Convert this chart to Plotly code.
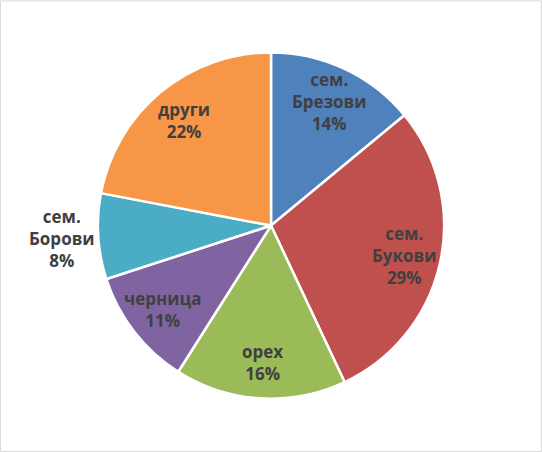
import numpy as np
import plotly.graph_objects as go

# категории и дялове (%)
labels = ["сем.<br>Брезови", "сем.<br>Букови", "орех", "черница", "сем.<br>Борови", "други"]
values = [14, 29, 16, 11, 8, 22]
colors = ["#4F81BD", "#C0504D", "#9BBB59", "#8064A2", "#4BACC6", "#F79646"]
outside = [False, False, False, False, True, False]

W, H = 542, 452
dom_y = [0.118, 0.884]
lbl_font = dict(family="Open Sans", size=17, color="#404040", weight="bold")
pct_text = ["%d%%" % round(100 * v / sum(values)) for v in values]

fig = go.Figure()
fig.add_trace(
    go.Pie(
        labels=labels,
        values=values,
        sort=False,
        direction="clockwise",
        rotation=0,
        marker=dict(colors=colors, line=dict(color="white", width=2.5)),
        textinfo="none",
        hoverinfo="label+percent",
        showlegend=False,
        automargin=False,
        domain=dict(x=[0, 1], y=dom_y),
    )
)

# етикети: по средата на ъгъла на сектора, вътре ~0.79 от радиуса, отвън ~1.21
radius = min(W, H * (dom_y[1] - dom_y[0])) / 2
cy = (dom_y[0] + dom_y[1]) / 2
frac = np.array(values) / sum(values)
mid = (np.cumsum(frac) - frac / 2) * 2 * np.pi
for i, ang in enumerate(mid):
    r = (1.21 if outside[i] else 0.79) * radius
    fig.add_annotation(
        x=0.5 + r * np.sin(ang) / W,
        y=cy + r * np.cos(ang) / H,
        xref="paper", yref="paper",
        xanchor="center", yanchor="middle",
        text="%s<br>%s" % (labels[i], pct_text[i]),
        showarrow=False,
        font=lbl_font,
        align="center",
    )

fig.update_layout(
    width=W,
    height=H,
    margin=dict(l=0, r=0, t=0, b=0, autoexpand=False),
    showlegend=False,
    paper_bgcolor="white",
    font=dict(family="Open Sans"),
    shapes=[
        dict(
            type="rect", xref="paper", yref="paper",
            x0=0.001, y0=0.001, x1=0.999, y1=0.998,
            line=dict(color="#D9D9D9", width=1),
        )
    ],
)

fig.write_html(
    "out.html",
    config={"displayModeBar": False},
    post_script="document.body.style.margin='0px';",
)
